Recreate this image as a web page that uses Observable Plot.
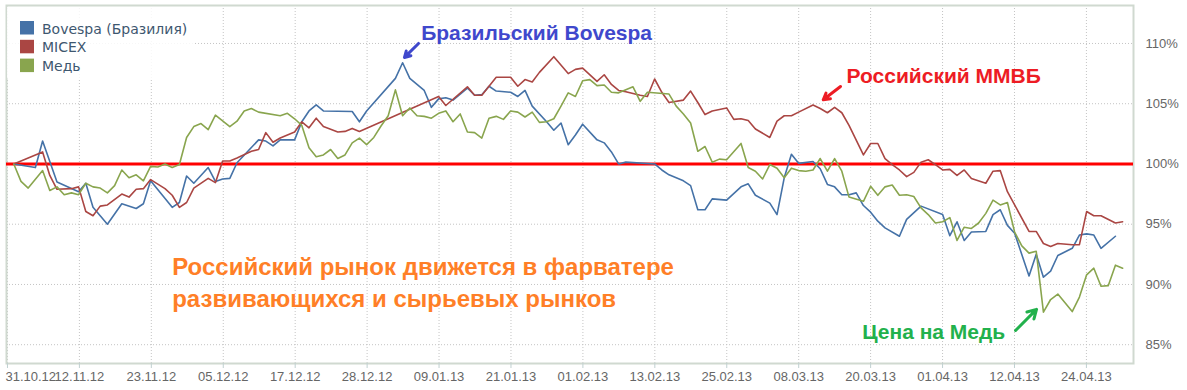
<!DOCTYPE html>
<html><head><meta charset="utf-8">
<script src="https://cdn.jsdelivr.net/npm/d3@7"></script>
<script src="https://cdn.jsdelivr.net/npm/@observablehq/plot@0.6"></script>
<style>
html,body{margin:0;padding:0;background:#fff;}
#chart{width:1187px;height:390px;}
</style></head><body><div id="chart"></div>
<script>
// x axis: trading-point index; tick labels (dates)
const xLabels = ["31.10.12","12.11.12","23.11.12","05.12.12","17.12.12","28.12.12","09.01.13","21.01.13","01.02.13","13.02.13","25.02.13","08.03.13","20.03.13","01.04.13","12.04.13","24.04.13"];
const yTicks = [85, 90, 95, 100, 105, 110];
const seriesNames = ["Bovespa (Бразилия)", "MICEX", "Медь"];
const seriesColors = ["#4572A7", "#AA4643", "#89A54E"];

// [point index, % of start]
const bovespa = [[0,100.0],[3,99.7],[4,101.9],[6,98.5],[9,97.7],[10,98.4],[11,96.4],[13,95.0],[15,96.7],[17,96.3],[18,96.7],[19,98.6],[22,96.4],[23,96.8],[24,99.0],[25,98.4],[27,99.7],[28,98.55],[29,98.75],[30,98.8],[31,100.1],[34,102.0],[35,101.9],[36,101.5],[37,102.0],[39,102.0],[40,103.5],[41,104.4],[42,104.9],[43,104.4],[47,104.35],[48,103.5],[49,104.4],[53,107.1],[54,108.4],[55,107.1],[57,106.1],[58,104.7],[59,105.4],[60,105.5],[61,105.3],[63,106.3],[64,105.7],[65,105.75],[66,106.45],[67,106.05],[69,105.95],[70,105.6],[71,106.1],[72,104.8],[74,103.5],[75,102.8],[76,103.4],[77,101.6],[78,102.4],[79,103.3],[81,102.0],[82,101.75],[83,101.0],[84,100.0],[85,100.15],[89,100.0],[90,99.5],[91,99.1],[93,98.6],[94,98.2],[95,96.2],[96,96.2],[97,97.1],[99,97.0],[101,98.1],[102,98.35],[103,97.4],[105,96.75],[106,95.8],[107,98.85],[108,100.8],[109,100.05],[111,100.2],[112,99.6],[113,98.3],[114,98.1],[115,97.45],[116,97.45],[117,97.6],[118,96.55],[119,96.0],[120,95.25],[121,94.7],[123,94.0],[124,95.4],[126,96.5],[129,95.8],[130,94.05],[131,95.2],[132,93.65],[133,94.35],[135,94.4],[136,95.8],[137,96.2],[138,94.9],[139,94.25],[141,90.7],[142,92.5],[143,90.6],[144,91.1],[145,92.4],[147,93.0],[148,94.1],[149,94.2],[150,94.1],[151,93.0],[153,94.0]];

const micex = [[0,100.0],[4,101.0],[5,99.05],[6,97.9],[8,97.95],[9,98.1],[10,96.05],[11,95.7],[12,96.5],[13,96.6],[15,97.5],[16,97.25],[17,97.9],[18,97.95],[19,98.7],[21,97.95],[22,97.4],[23,96.4],[24,96.8],[25,98.0],[27,98.8],[28,98.45],[29,100.25],[30,100.25],[31,100.5],[33,101.05],[34,101.2],[35,102.6],[36,101.8],[37,102.15],[39,102.65],[40,103.5],[41,103.0],[42,103.8],[43,103.1],[45,102.65],[46,102.7],[47,102.95],[48,102.7],[59,105.6],[60,104.85],[63,106.4],[64,105.7],[65,105.7],[67,107.2],[69,107.2],[70,106.45],[71,107.0],[72,106.8],[73,107.6],[75,108.9],[77,107.5],[78,107.85],[79,107.95],[81,106.85],[82,107.4],[83,106.6],[84,106.1],[85,106.0],[87,105.7],[88,105.6],[89,107.05],[90,105.95],[91,105.1],[93,105.3],[94,106.05],[95,105.1],[96,104.1],[97,104.4],[99,104.65],[100,103.7],[101,103.75],[102,103.6],[103,102.9],[105,102.2],[106,103.55],[107,104.0],[108,104.0],[109,104.3],[111,104.9],[112,104.6],[113,104.25],[114,104.7],[115,104.25],[116,103.2],[118,100.75],[119,101.7],[120,101.7],[121,100.45],[122,99.95],[123,99.5],[124,98.95],[125,99.3],[126,100.15],[127,100.35],[128,99.95],[129,99.5],[130,99.55],[131,99.05],[132,99.5],[133,98.8],[135,98.4],[136,99.4],[137,99.45],[138,97.7],[141,94.4],[142,94.4],[143,93.4],[144,93.15],[145,93.4],[147,93.3],[148,93.3],[149,96.05],[150,95.7],[151,95.7],[153,95.1],[154,95.2]];

const copper = [[0,100.0],[1,98.55],[2,98.0],[4,99.45],[5,97.8],[6,98.1],[7,97.45],[8,97.6],[9,97.45],[10,98.4],[11,98.1],[12,98.0],[13,97.6],[14,98.2],[15,99.5],[16,98.85],[17,99.1],[18,98.6],[19,99.8],[20,99.75],[21,100.0],[22,99.7],[23,99.95],[24,102.2],[25,103.1],[26,103.35],[27,102.85],[28,104.05],[30,103.1],[31,103.55],[32,104.4],[33,104.6],[34,104.3],[37,104.0],[38,104.2],[39,103.75],[40,103.2],[41,101.35],[42,100.6],[43,100.75],[44,101.2],[45,100.45],[46,100.75],[47,101.75],[48,102.15],[49,101.6],[50,102.2],[51,103.15],[52,104.0],[53,106.15],[54,104.0],[55,104.65],[56,104.0],[57,103.95],[58,103.8],[59,104.2],[60,104.4],[61,103.5],[62,104.15],[63,102.65],[64,102.6],[65,102.15],[66,103.8],[67,103.95],[68,103.7],[69,104.4],[70,104.3],[71,103.9],[72,104.3],[73,103.45],[74,103.5],[75,103.75],[76,104.8],[77,105.9],[78,105.6],[79,106.9],[80,107.0],[81,106.5],[82,106.55],[83,105.95],[84,105.9],[85,106.15],[86,106.4],[87,105.2],[88,105.95],[91,105.8],[92,104.8],[93,104.15],[94,103.4],[95,101.05],[96,101.45],[97,100.15],[98,100.4],[99,100.35],[101,101.7],[102,99.7],[103,99.4],[104,98.75],[105,99.95],[106,99.65],[107,98.85],[108,99.65],[109,99.45],[110,99.4],[111,99.5],[112,100.45],[113,99.4],[114,100.45],[115,99.4],[116,97.25],[118,96.9],[119,98.15],[120,97.4],[121,98.1],[122,98.25],[123,97.4],[124,97.45],[125,97.3],[126,96.35],[127,95.8],[128,95.1],[129,95.2],[130,95.55],[131,93.65],[132,94.75],[133,94.65],[134,95.1],[135,95.9],[136,97.0],[137,96.6],[138,96.8],[139,94.35],[140,93.2],[141,92.6],[142,92.75],[143,87.7],[144,88.75],[145,89.2],[147,87.75],[148,88.95],[149,90.8],[150,91.35],[151,89.85],[152,89.9],[153,91.6],[154,91.35]];

const notes = [
  {x: 56.58, y: 110.31, text: "Бразильский Bovespa", color: "#3F48CC"},
  {x: 115.65, y: 106.71, text: "Российский ММВБ", color: "#ED1C24"},
  {x: 117.83, y: 85.46, text: "Цена на Медь", color: "#22B14C"}
];
const noteArrows = [
  {x1: 56.21, y1: 110.0, x2: 54.26, y2: 108.84, color: "#3F48CC"},
  {x1: 114.82, y1: 106.43, x2: 112.42, y2: 105.33, color: "#ED1C24"},
  {x1: 139.13, y1: 86.18, x2: 142.04, y2: 87.93, color: "#22B14C"}
];
const comment = [
  {x: 22.0, y: 90.75, text: "Российский рынок движется в фарватере"},
  {x: 22.0, y: 88.17, text: "развивающихся и сырьевых рынков"}
];

const rows = [];
[bovespa, micex, copper].forEach((s, k) => s.forEach(([i, v]) => rows.push({series: seriesNames[k], i, v})));

const xTickPos = xLabels.map((_, k) => -0.88 + 9.99 * k);
const labelAt = new Map(xTickPos.map((p, k) => [p, xLabels[k]]));

const plot = Plot.plot({
  width: 1187, height: 390,
  marginLeft: 6, marginRight: 54, marginTop: 5, marginBottom: 27,
  style: {fontFamily: "'Liberation Sans', Arial, sans-serif", fontSize: "13px", background: "#fff", color: "#666"},
  x: {type: "linear", domain: [-1.014, 155.51]},
  y: {type: "linear", domain: [83.44, 113.15]},
  color: {domain: seriesNames, range: seriesColors},
  marks: [
    Plot.gridX(xTickPos, {stroke: "#c4c4c4", strokeOpacity: 1, strokeDasharray: "1,2"}),
    Plot.gridY(yTicks, {stroke: "#c4c4c4", strokeOpacity: 1, strokeDasharray: "1,2"}),
    Plot.frame({stroke: "#D0D9D0", strokeWidth: 2}),
    Plot.ruleY([100], {stroke: "#FF0000", strokeWidth: 3}),
    Plot.line(rows, {x: "i", y: "v", z: "series", stroke: "series", strokeWidth: 1.6}),
    Plot.axisX(xTickPos, {tickFormat: d => d === xTickPos[0] ? "" : labelAt.get(d), tickSize: 5, tickPadding: 3, stroke: "#C0D0D0", fill: "#666", fontSize: 13}),
    Plot.text([xTickPos[0]], {x: d => d, text: () => xLabels[0], frameAnchor: "bottom", lineAnchor: "top", dy: 8, dx: -2, textAnchor: "start", fill: "#666", fontSize: 13}),
    Plot.axisY(yTicks, {anchor: "right", tickSize: 0, tickPadding: 12, tickFormat: d => d + "%", fill: "#666", fontSize: 13}),
    Plot.arrow(noteArrows, {x1: "x1", y1: "y1", x2: "x2", y2: "y2", stroke: d => d.color, strokeWidth: 3, headLength: 7, bend: 0}),
    Plot.text(notes, {x: "x", y: "y", text: "text", fill: d => d.color, fontSize: 21, fontWeight: "bold", textAnchor: "start", lineAnchor: "bottom", fontFamily: "'Liberation Sans', Arial, sans-serif"}),
    Plot.text(comment, {x: "x", y: "y", text: "text", fill: "#FF7F27", fontSize: 24, fontWeight: "bold", textAnchor: "start", lineAnchor: "bottom", fontFamily: "'Liberation Sans', Arial, sans-serif"})
  ]
});

// legend inside the plot area (top-left)
const svg = d3.select(plot);
const lg = svg.append("g").attr("font-family", "'DejaVu Sans', sans-serif").attr("font-size", 14).attr("text-anchor", "start");
lg.append("rect").attr("x", 7).attr("y", 7).attr("width", 188).attr("height", 71).attr("fill", "#fff").attr("fill-opacity", 0.85);
seriesNames.forEach((name, k) => {
  const y0 = 21 + k * 18.8;
  lg.append("rect").attr("x", 20).attr("y", y0).attr("width", 14).attr("height", 13.5).attr("fill", seriesColors[k]);
  lg.append("text").attr("x", 42).attr("y", y0 + 12.5).attr("text-anchor", "start").style("font-size", "14px").style("font-family", "'DejaVu Sans', sans-serif").attr("fill", "#3E576F").text(name);
});

document.getElementById("chart").appendChild(plot);
</script>
</body></html>
